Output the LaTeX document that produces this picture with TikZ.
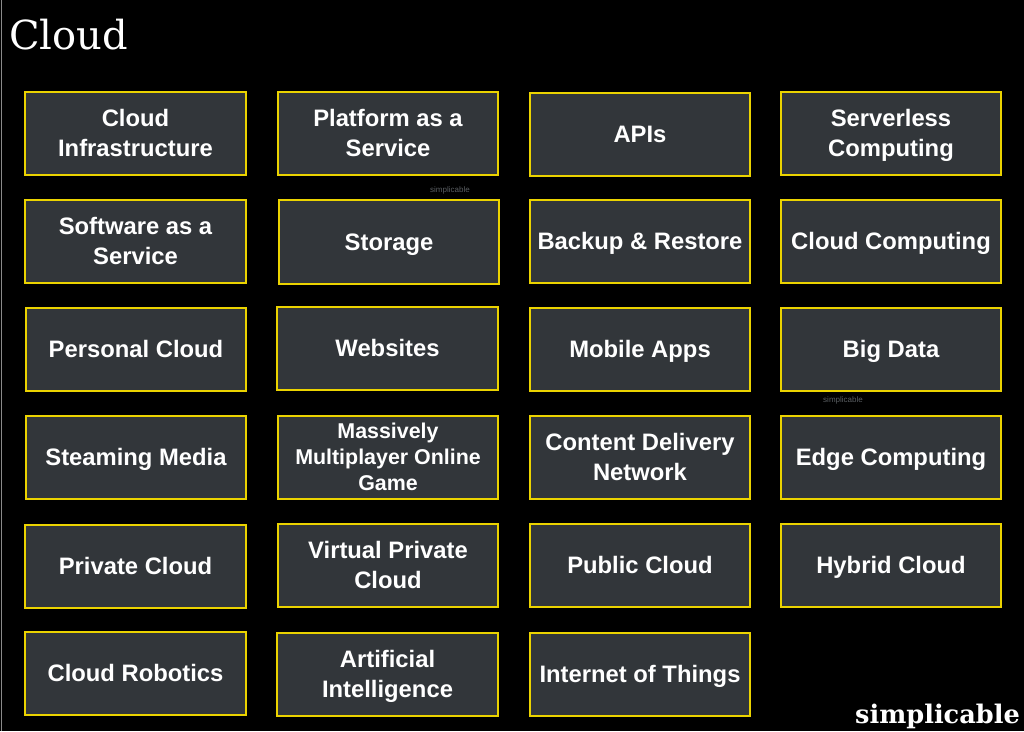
\documentclass[tikz,border=0pt]{standalone}
\usepackage{fontspec}
\setmainfont{Liberation Sans}
\newfontfamily\titlefont{DejaVu Serif}
\definecolor{boxfill}{HTML}{32363A}
\definecolor{boxline}{HTML}{EBD300}
\definecolor{markgray}{HTML}{5A5E62}
\definecolor{edgegray}{HTML}{8A8A8A}
\tikzset{
  card/.style={fill=boxline,minimum width=222.5pt,minimum height=85.5pt,
    path picture={\fill[boxfill] ([shift={(2pt,2pt)}]path picture bounding box.south west) rectangle ([shift={(-2pt,-2pt)}]path picture bounding box.north east);},
    align=center,text=white,inner sep=0pt,font=\bfseries\fontsize{23.8}{29.5}\selectfont},
  cardtight/.style={card,font=\bfseries\fontsize{21.4}{26}\selectfont}
}
\newcommand{\cardat}[5][card]{\node[#1] (#2) at (#3pt,-#4pt) {\rule{0pt}{0.89em}#5\vphantom{Ag}};}
\begin{document}
\begin{tikzpicture}[x=1pt,y=1pt]
\useasboundingbox (0,-731) rectangle (1024,0);
\fill[black] (0,-731) rectangle (1024,0);
\fill[edgegray] (0.6,-731) rectangle (1.6,0);
\node[text=white,anchor=base west,inner sep=0pt,font=\titlefont\fontsize{40}{42}\selectfont] (title) at (9,-49) {Cloud};
\node[text=markgray,inner sep=0pt,font=\fontsize{8}{9}\selectfont] (marka) at (450,-190) {simplicable};
\node[text=markgray,inner sep=0pt,font=\fontsize{8}{9}\selectfont] (markb) at (843,-400) {simplicable};
\node[text=white,anchor=base east,inner sep=0pt,font=\titlefont\bfseries\fontsize{25.6}{27}\selectfont] (brand) at (1020,-723) {simplicable};
\cardat{a1}{135.5}{133.5}{Cloud\\Infrastructure}
\cardat{a2}{135.5}{241.5}{Software as a\\Service}
\cardat{a3}{136}{349.5}{Personal Cloud}
\cardat{a4}{136}{457.5}{Steaming Media}
\cardat{a5}{135.5}{566.5}{Private Cloud}
\cardat{a6}{135.5}{673.5}{Cloud Robotics}
\cardat{b1}{388}{133.5}{Platform as a\\Service}
\cardat{b2}{389}{242}{Storage}
\cardat{b3}{387.5}{348.5}{Websites}
\cardat[cardtight]{b4}{388}{457.5}{Massively\\Multiplayer Online\\Game}
\cardat{b5}{388}{565.5}{Virtual Private\\Cloud}
\cardat{b6}{387.5}{674.5}{Artificial\\Intelligence}
\cardat{c1}{640}{134.5}{APIs}
\cardat{c2}{640}{241.5}{Backup \& Restore}
\cardat{c3}{640}{349.5}{Mobile Apps}
\cardat{c4}{640}{457.5}{Content Delivery\\Network}
\cardat{c5}{640}{565.5}{Public Cloud}
\cardat{c6}{640}{674.5}{Internet of Things}
\cardat{d1}{891}{133.5}{Serverless\\Computing}
\cardat{d2}{891}{241.5}{Cloud Computing}
\cardat{d3}{891}{349.5}{Big Data}
\cardat{d4}{891}{457.5}{Edge Computing}
\cardat{d5}{891}{565.5}{Hybrid Cloud}
\end{tikzpicture}
\end{document}
